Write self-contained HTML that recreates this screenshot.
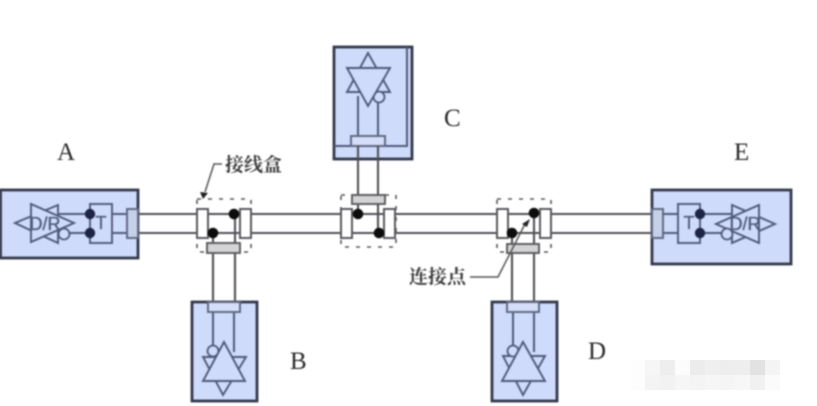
<!DOCTYPE html>
<html><head><meta charset="utf-8">
<style>
html,body{margin:0;padding:0;background:#fff;width:817px;height:406px;overflow:hidden}
svg{display:block}
text{font-family:"Liberation Sans","Noto Sans CJK SC",sans-serif}
.s{font-family:"Liberation Serif","Noto Serif CJK SC",serif;font-size:25px;fill:#2a2a2a}
.cn{font-family:"Liberation Serif","Noto Serif CJK SC",serif;font-size:19px;font-weight:bold;fill:#3c3c3c}
.box{fill:#cfdbfb;stroke:#33384a;stroke-width:2.8}
.ln{fill:none;stroke:#4f5056;stroke-width:2.1}
.bl{fill:none;stroke:#505a78;stroke-width:2}
.tri{fill:#cfdbfb;stroke:#505a78;stroke-width:1.9}
.pad{fill:#fff;stroke:#5a5a5e;stroke-width:2}
.tee{fill:#d4d4d4;stroke:#5a5a5e;stroke-width:1.9}
.con{fill:#c6d0e8;stroke:#5c6580;stroke-width:1.9}
.dash{fill:none;stroke:#555;stroke-width:1.6;stroke-dasharray:4 7}
.lbl{font-size:18px;fill:#505a78;stroke:#505a78;stroke-width:.35}
</style></head><body>
<svg width="817" height="406" viewBox="0 0 817 406" xmlns="http://www.w3.org/2000/svg">
<rect width="817" height="406" fill="#fff"/>
<!-- watermark blocks -->
<g>
<rect x="630" y="360" width="15" height="15" fill="#fdfdfd"/><rect x="645" y="360" width="15" height="15" fill="#f6f6f6"/><rect x="660" y="360" width="15" height="15" fill="#eeeeee"/><rect x="675" y="360" width="15" height="15" fill="#fcfcfc"/><rect x="690" y="360" width="15" height="15" fill="#ececec"/><rect x="705" y="360" width="15" height="15" fill="#efefef"/><rect x="720" y="360" width="15" height="15" fill="#ededed"/><rect x="735" y="360" width="15" height="15" fill="#eeeeee"/><rect x="750" y="360" width="15" height="15" fill="#e2e2e2"/><rect x="765" y="360" width="15" height="15" fill="#f4f4f4"/>
<rect x="630" y="375" width="15" height="15" fill="#fdfdfd"/><rect x="645" y="375" width="15" height="15" fill="#f4f4f4"/><rect x="660" y="375" width="15" height="15" fill="#f2f2f2"/><rect x="675" y="375" width="15" height="15" fill="#f6f6f6"/><rect x="690" y="375" width="15" height="15" fill="#f4f4f4"/><rect x="705" y="375" width="15" height="15" fill="#f6f6f6"/><rect x="720" y="375" width="15" height="15" fill="#f5f5f5"/><rect x="735" y="375" width="15" height="15" fill="#f7f7f7"/><rect x="750" y="375" width="15" height="15" fill="#f1f1f1"/><rect x="765" y="375" width="15" height="15" fill="#fbfbfb"/>
</g>
<g style="filter:blur(.7px)">
<!-- boxes -->
<rect class="box" x="0.5" y="190" width="137.5" height="68"/>
<rect class="box" x="652" y="190" width="139" height="74"/>
<rect class="box" x="334" y="47" width="78" height="112"/>
<rect class="box" x="192" y="302" width="65" height="99"/>
<rect class="box" x="492" y="302" width="65" height="99"/>
<path class="bl" d="M407 47V146H334"/>
<!-- bus -->
<path class="ln" d="M138 214H652M138 233H652"/>
<!-- A -->
<path class="bl" d="M58 214H127M58 233H127"/>
<path class="tri" d="M15 223L58 205V243Z"/><path class="tri" d="M31 204V242L74 223Z"/>
<circle cx="64" cy="234" r="5.5" fill="#cfdbfb" stroke="#505a78" stroke-width="1.8"/>
<rect x="90" y="204" width="22" height="39" fill="#cfdbfb" stroke="#505a78" stroke-width="1.9"/>
<circle cx="90" cy="214" r="5.2" fill="#1e2444"/><circle cx="90" cy="233" r="5.2" fill="#1e2444"/>
<rect class="con" x="127" y="209" width="11" height="29"/>
<text class="lbl" x="45" y="230" text-anchor="middle">D/R</text>
<text class="lbl" x="101" y="229" text-anchor="middle">T</text>
<!-- E -->
<path class="bl" d="M663 214H732M663 233H732"/>
<path class="tri" d="M775 224L732 205V243Z"/><path class="tri" d="M759 205V243L716 224Z"/>
<circle cx="727" cy="234" r="5.5" fill="#cfdbfb" stroke="#505a78" stroke-width="1.8"/>
<rect x="678" y="204" width="22" height="39" fill="#cfdbfb" stroke="#505a78" stroke-width="1.9"/>
<circle cx="700" cy="214" r="5.2" fill="#1e2444"/><circle cx="700" cy="233" r="5.2" fill="#1e2444"/>
<rect class="con" x="652" y="209" width="11" height="29"/>
<text class="lbl" x="745" y="230" text-anchor="middle">D/R</text>
<text class="lbl" x="689" y="229" text-anchor="middle">T</text>
<!-- junction 1 / B -->
<rect class="dash" x="197" y="199" width="54" height="53"/>
<path class="ln" d="M213 233V302M235 214V302"/>
<rect class="pad" x="197" y="209" width="11" height="29"/><rect class="pad" x="240" y="209" width="11" height="29"/>
<rect class="tee" x="207" y="243" width="33" height="10"/>
<circle cx="234" cy="214" r="5.3" fill="#0c0c0c"/><circle cx="213" cy="233" r="5.3" fill="#0c0c0c"/>
<path class="bl" d="M213 312V352M234 312V352"/>
<rect class="con" x="208" y="302" width="32" height="10" style="fill:#d4def8"/>
<path class="tri" d="M203 357H246L223 395Z"/>
<circle cx="213" cy="351" r="5.5" fill="#cfdbfb" stroke="#505a78" stroke-width="1.8"/>
<path class="tri" d="M224 342L203 381H245Z"/>
<!-- junction 2 / C -->
<rect class="dash" x="341" y="195" width="55" height="52"/>
<path class="bl" d="M358 96V136M378 96V136"/>
<path class="tri" d="M368 53L347 92H390Z"/>
<circle cx="379" cy="97" r="5.5" fill="#cfdbfb" stroke="#505a78" stroke-width="1.8"/>
<path class="tri" d="M347 68H390L368 106Z"/>
<rect class="con" x="351" y="136" width="34" height="10" style="fill:#d4def8"/>
<path class="ln" d="M358 146V214M378 146V233"/>
<rect class="pad" x="341" y="209" width="11" height="29"/><rect class="pad" x="384" y="209" width="11" height="29"/>
<rect class="tee" x="352" y="195" width="33" height="9"/>
<circle cx="358" cy="214" r="5.3" fill="#0c0c0c"/><circle cx="379" cy="233" r="5.3" fill="#0c0c0c"/>
<!-- junction 3 / D -->
<rect class="dash" x="497" y="199" width="54" height="53"/>
<path class="ln" d="M512 233V302M534 214V302"/>
<rect class="pad" x="497" y="209" width="11" height="29"/><rect class="pad" x="540" y="209" width="11" height="29"/>
<rect class="tee" x="507" y="244" width="32" height="9"/>
<circle cx="534" cy="213" r="5.3" fill="#0c0c0c"/><circle cx="512" cy="233" r="5.3" fill="#0c0c0c"/>
<path class="bl" d="M513 312V352M534 312V352"/>
<rect class="con" x="507" y="302" width="32" height="10" style="fill:#d4def8"/>
<path class="tri" d="M503 356H545L523 395Z"/>
<circle cx="513" cy="351" r="5.5" fill="#cfdbfb" stroke="#505a78" stroke-width="1.8"/>
<path class="tri" d="M523 342L502 381H545Z"/>
<!-- leaders -->
<path d="M470 277H498L525 224" fill="none" stroke="#555" stroke-width="1.5"/>
<path d="M530 219L527 227L522 224Z" fill="#222"/>
<path d="M222 164H214L205 192" fill="none" stroke="#555" stroke-width="1.5"/>
<path d="M203 199L200 192L208 193Z" fill="#222"/>
<!-- labels -->
<text class="cn" x="225" y="171">接线盒</text>
<text class="cn" x="409" y="283">连接点</text>
<text class="s" x="57" y="160">A</text>
<text class="s" x="290" y="369">B</text>
<text class="s" x="444" y="126">C</text>
<text class="s" x="588" y="359">D</text>
<text class="s" x="734" y="160">E</text>
</g>
</svg>
</body></html>
